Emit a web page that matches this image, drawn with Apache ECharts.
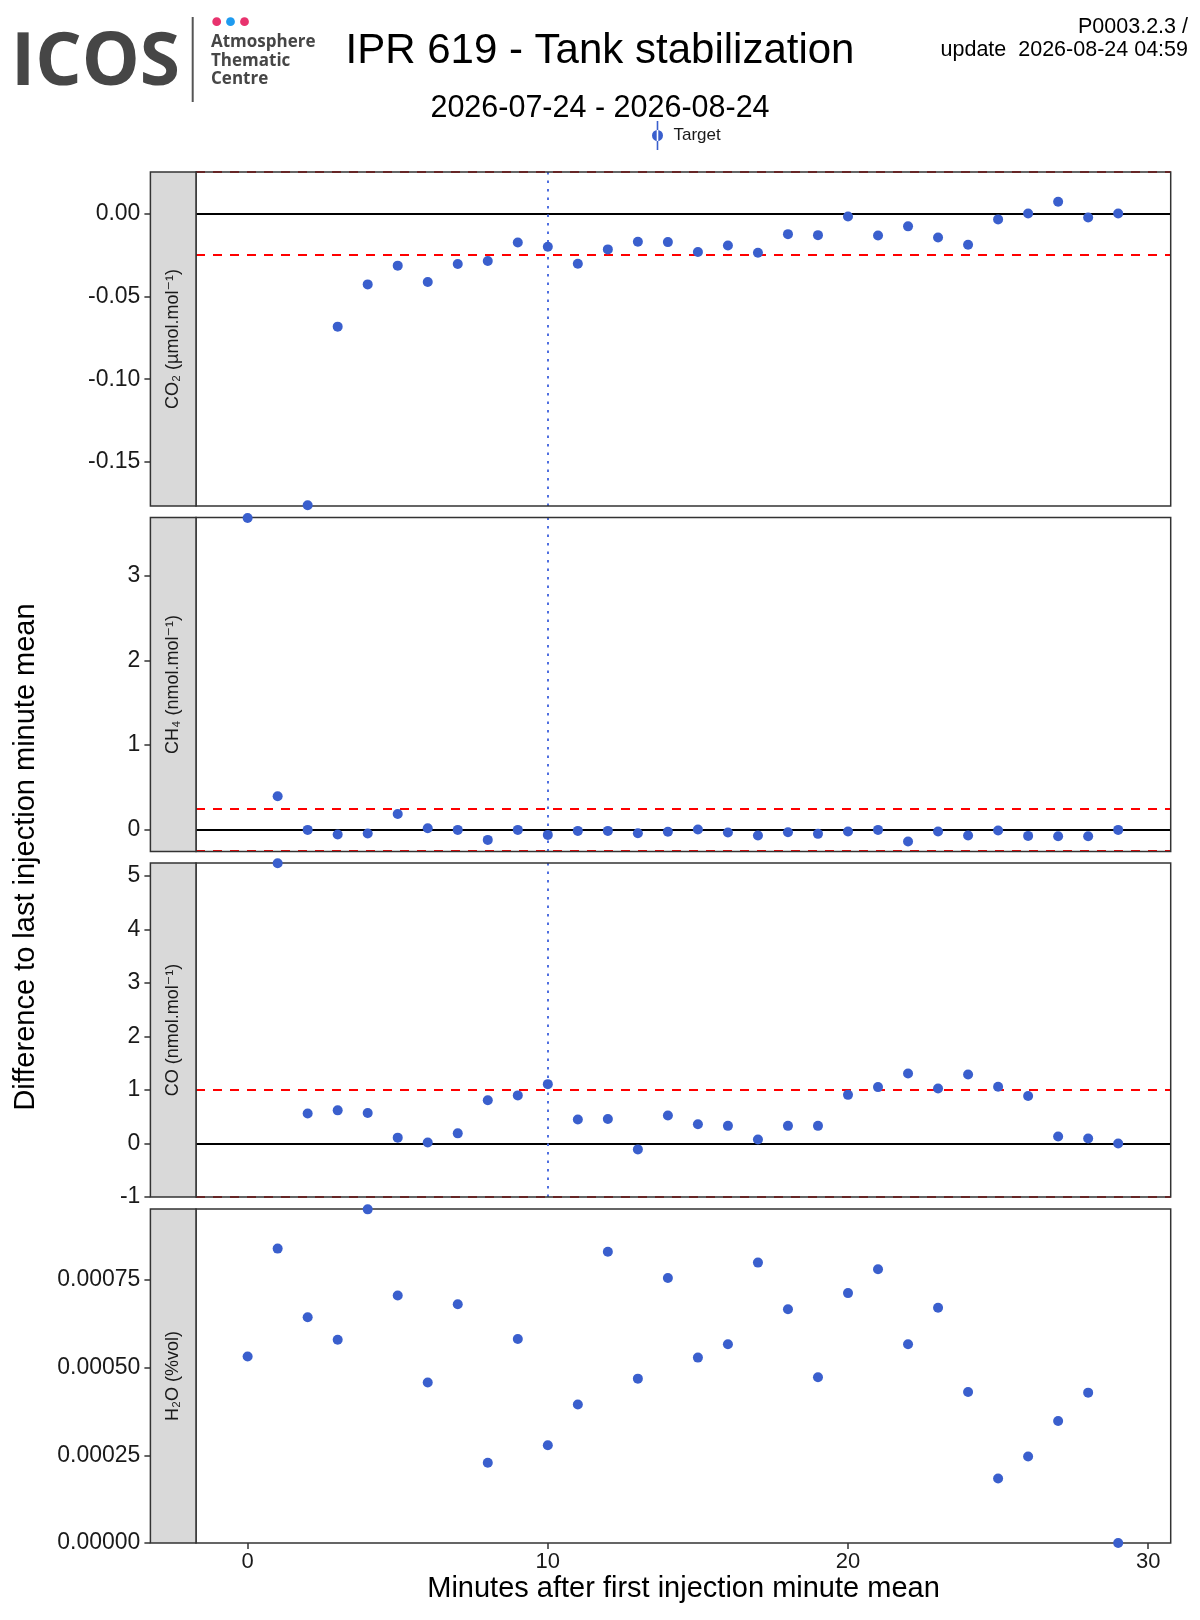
<!DOCTYPE html>
<html lang="en">
<head>
    <meta charset="UTF-8">
    <title>IPR 619 - Tank stabilization</title>
    <script src="https://cdn.jsdelivr.net/npm/echarts@6.0.0/dist/echarts.min.js"></script>
    <style>html, body { margin: 0; padding: 0; background: #fff; }</style>
</head>
<body>
<div id="chart" style="width:1200px;height:1620px;"></div>

<script type="text/javascript">
    // minutes after first injection
    var minutes = [0, 1, 2, 3, 4, 5, 6, 7, 8, 9, 10, 11, 12, 13, 14, 15, 16, 17, 18, 19,
        20, 21, 22, 23, 24, 25, 26, 27, 28, 29];

    // difference to last injection minute mean (null = outside the plotted range)
    var co2 = [null, null, -0.176, -0.0683, -0.0428, -0.0315, -0.0414, -0.0305, -0.0287, -0.0175,
        -0.0201, -0.0303, -0.0217, -0.0171, -0.0173, -0.0233, -0.0193, -0.0237, -0.0125, -0.0131,
        -0.0018, -0.0133, -0.0078, -0.0145, -0.0189, -0.0036, 0.0, 0.0070, -0.0024, 0.0];
    var ch4 = [3.68, 0.396, 0.0, -0.055, -0.043, 0.188, 0.02, 0.0, -0.118, 0.0,
        -0.059, -0.012, -0.012, -0.04, -0.022, 0.004, -0.031, -0.067, -0.027, -0.047,
        -0.02, 0.0, -0.137, -0.02, -0.067, -0.008, -0.071, -0.075, -0.075, 0.0];
    var co = [null, 5.24, 0.56, 0.62, 0.57, 0.11, 0.02, 0.19, 0.81, 0.90,
        1.11, 0.45, 0.46, -0.11, 0.524, 0.36, 0.33, 0.075, 0.33, 0.33,
        0.91, 1.055, 1.31, 1.03, 1.29, 1.06, 0.89, 0.13, 0.094, 0.0];
    var h2o = [0.000532, 0.000840, 0.000644, 0.000580, 0.000952, 0.000706, 0.000458, 0.000681, 0.000229, 0.000582,
        0.000279, 0.000395, 0.000831, 0.000469, 0.000756, 0.000529, 0.000567, 0.000800, 0.000667, 0.000473,
        0.000713, 0.000781, 0.000567, 0.000671, 0.000431, 0.000184, 0.000247, 0.000348, 0.000429, 0.0];

    // axis ranges and ticks
    var xRange = [-1.72, 30.75];
    var xTicks = [0, 10, 20, 30];
    var co2Range = [-0.1765, 0.025];
    var co2Ticks = [-0.15, -0.10, -0.05, 0.00];
    var ch4Range = [-0.255, 3.685];
    var ch4Ticks = [0, 1, 2, 3];
    var coRange = [-1, 5.245];
    var coTicks = [-1, 0, 1, 2, 3, 4, 5];
    var h2oRange = [0, 0.000953];
    var h2oTicks = [0, 0.00025, 0.0005, 0.00075];

    // tolerance lines and stabilisation minute
    var co2Limits = [-0.025, 0.025];
    var ch4Limits = [-0.25, 0.25];
    var coLimits = [-1, 1];
    var stableMinute = 10;

    var FONT = "'Liberation Sans', 'DejaVu Sans', sans-serif";
    var LOGO_FONT = '"Open Sans", sans-serif';
    var POINT = '#3A5FCD';

    var panels = [
        {label: 'CO\u2082 (\u00b5mol.mol\u207b\u00b9)', values: co2, range: co2Range, ticks: co2Ticks, limits: co2Limits, digits: 2},
        {label: 'CH\u2084 (nmol.mol\u207b\u00b9)', values: ch4, range: ch4Range, ticks: ch4Ticks, limits: ch4Limits, digits: 0},
        {label: 'CO (nmol.mol\u207b\u00b9)', values: co, range: coRange, ticks: coTicks, limits: coLimits, digits: 0},
        {label: 'H\u2082O (%vol)', values: h2o, range: h2oRange, ticks: h2oTicks, limits: null, digits: 5}
    ];

    var gridTops = [172, 517.5, 863, 1209];
    var gridHeight = 334;
    var gridLeft = 196;
    var gridRight = 29.3;
    var stripLeft = 150.4;

    var grids = [], xAxes = [], yAxes = [], series = [], graphics = [];

    panels.forEach(function (p, i) {
        var last = i === panels.length - 1;
        grids.push({
            left: gridLeft, right: gridRight, top: gridTops[i], height: gridHeight,
            show: true, z: 2, borderColor: '#333', borderWidth: 1.5, backgroundColor: 'transparent'
        });
        xAxes.push({
            gridIndex: i, type: 'value', min: xRange[0], max: xRange[1],
            axisLine: {show: false, onZero: false},
            splitLine: {show: false},
            axisTick: {show: last, length: 6, customValues: xTicks, lineStyle: {color: '#333', width: 1.5}},
            axisLabel: {show: last, customValues: xTicks, fontSize: 22, color: '#1a1a1a', fontFamily: FONT, margin: 8}
        });
        yAxes.push({
            gridIndex: i, type: 'value', min: p.range[0], max: p.range[1],
            offset: gridLeft - stripLeft,
            axisLine: {show: false, onZero: false},
            splitLine: {show: false},
            axisTick: {show: true, length: 6, customValues: p.ticks, lineStyle: {color: '#333', width: 1.5}},
            axisLabel: {
                customValues: p.ticks, fontSize: 23, color: '#1a1a1a', fontFamily: FONT, margin: 10,
                formatter: (function (d) { return function (v) { return Number(v).toFixed(d); }; })(p.digits)
            }
        });

        var lines = [];
        if (p.limits) {
            lines.push({yAxis: 0, lineStyle: {color: '#000', type: 'solid', width: 1.8}});
            p.limits.forEach(function (l) {
                lines.push({yAxis: l, lineStyle: {color: '#ff0000', type: [9, 8], width: 1.8}});
            });
            lines.push({xAxis: stableMinute, lineStyle: {color: '#4f6fe0', type: [2.5, 6], width: 2}});
        }

        series.push({
            name: 'Target', type: 'scatter', xAxisIndex: i, yAxisIndex: i,
            symbolSize: 10, z: 3,
            itemStyle: {color: POINT, opacity: 1},
            data: minutes.map(function (m, j) { return [m, p.values[j]]; }),
            markLine: lines.length ? {
                symbol: ['none', 'none'], silent: true, z: 1, animation: false, precision: 8,
                label: {show: false}, emphasis: {disabled: true},
                data: lines
            } : undefined
        });

        // facet strip on the left
        graphics.push({
            type: 'rect', z: 10,
            shape: {x: stripLeft, y: gridTops[i], width: gridLeft - stripLeft, height: gridHeight},
            style: {fill: '#d9d9d9', stroke: '#333', lineWidth: 1.5}
        });
        graphics.push({
            type: 'text', z: 11, x: (stripLeft + gridLeft) / 2, y: gridTops[i] + gridHeight / 2,
            rotation: Math.PI / 2,
            style: {text: p.label, font: '18px ' + FONT, fill: '#1a1a1a', align: 'center', verticalAlign: 'middle'}
        });
    });

    // header: logo, titles, version
    graphics.push(
        {type: 'text', x: 11, y: 64, style: {text: 'ICOS', font: 'bold 73px ' + LOGO_FONT, fill: '#464646', align: 'left', verticalAlign: 'middle'}},
        {type: 'line', shape: {x1: 192.7, y1: 17, x2: 192.7, y2: 102}, style: {stroke: '#555', lineWidth: 2}},
        {type: 'circle', shape: {cx: 216.7, cy: 21.7, r: 4.4}, style: {fill: '#e8336e'}},
        {type: 'circle', shape: {cx: 230.5, cy: 21.7, r: 4.4}, style: {fill: '#1e9bf0'}},
        {type: 'circle', shape: {cx: 244.5, cy: 21.7, r: 4.4}, style: {fill: '#e8336e'}},
        {type: 'text', x: 211, y: 42.5, style: {text: 'Atmosphere', font: 'bold 17px ' + LOGO_FONT, fill: '#464646', verticalAlign: 'middle'}},
        {type: 'text', x: 211, y: 61.5, style: {text: 'Thematic', font: 'bold 17px ' + LOGO_FONT, fill: '#464646', verticalAlign: 'middle'}},
        {type: 'text', x: 211, y: 79.5, style: {text: 'Centre', font: 'bold 17px ' + LOGO_FONT, fill: '#464646', verticalAlign: 'middle'}},
        {type: 'text', x: 600, y: 51, style: {text: 'IPR 619 - Tank stabilization', font: '42px ' + FONT, fill: '#000', align: 'center', verticalAlign: 'middle'}},
        {type: 'text', x: 600, y: 109, style: {text: '2026-07-24 - 2026-08-24', font: '30.5px ' + FONT, fill: '#000', align: 'center', verticalAlign: 'middle'}},
        {type: 'text', x: 1188, y: 27, style: {text: 'P0003.2.3 /', font: '21.5px ' + FONT, fill: '#000', align: 'right', verticalAlign: 'middle'}},
        {type: 'text', x: 1188, y: 50.5, style: {text: 'update  2026-08-24 04:59', font: '21.5px ' + FONT, fill: '#000', align: 'right', verticalAlign: 'middle'}},
        // axis titles
        {type: 'text', x: 26, y: 857, rotation: Math.PI / 2, style: {text: 'Difference to last injection minute mean', font: '29px ' + FONT, fill: '#000', align: 'center', verticalAlign: 'middle'}},
        {type: 'text', x: 683.5, y: 1589, style: {text: 'Minutes after first injection minute mean', font: '29px ' + FONT, fill: '#000', align: 'center', verticalAlign: 'middle'}}
    );

    var chart = echarts.init(document.getElementById('chart'), null, {renderer: 'canvas'});
    chart.setOption({
        animation: false,
        backgroundColor: '#fff',
        legend: {
            data: ['Target'], left: 652, top: 121, padding: 0,
            itemWidth: 12, itemHeight: 29,
            icon: 'path://M5.2,0H6.8V29H5.2Z M0.5,14.5A5.5,5.5,0,1,0,11.5,14.5A5.5,5.5,0,1,0,0.5,14.5Z',
            textStyle: {fontSize: 17, color: '#1a1a1a', fontFamily: FONT, padding: [0, 0, 0, 5]},
            selectedMode: false
        },
        grid: grids,
        xAxis: xAxes,
        yAxis: yAxes,
        series: series,
        graphic: graphics
    });
</script>
</body>
</html>
